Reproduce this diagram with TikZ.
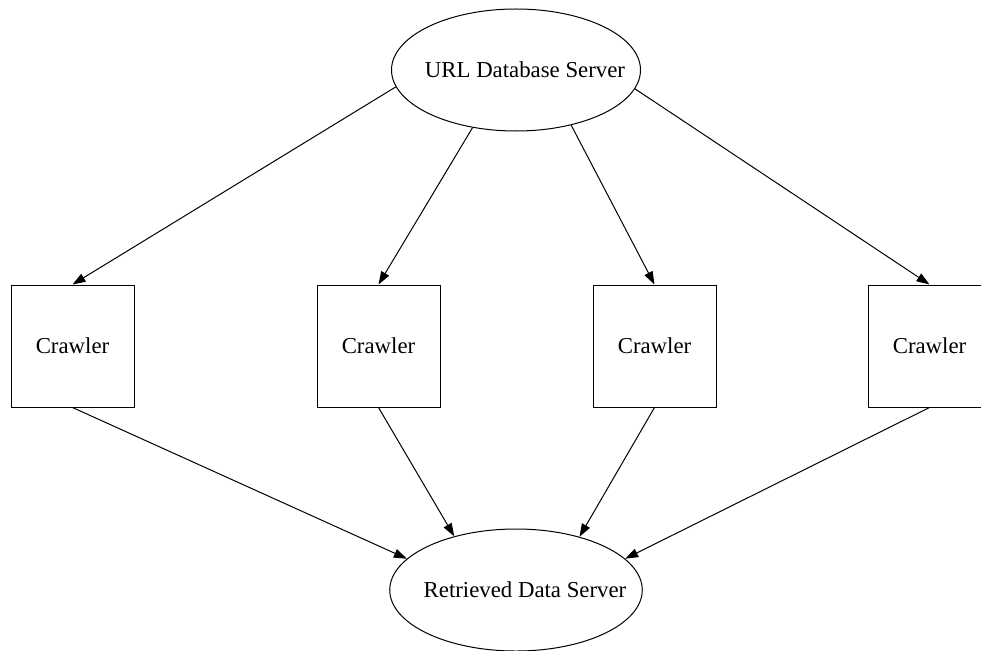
\documentclass[tikz,border=0pt]{standalone}
\usepackage{fontspec}
\setmainfont{Liberation Serif}
\usetikzlibrary{arrows.meta,shapes.geometric}
\begin{document}
\begin{tikzpicture}[x=1pt,y=-1pt,
  server/.style={draw, ellipse, line width=1pt, minimum width=246pt, minimum height=122pt,
    inner xsep=-21pt, inner ysep=0pt, font=\fontsize{22.8}{27}\selectfont},
  crawlerbox/.style={draw, rectangle, line width=1pt, minimum width=123pt, minimum height=122pt,
    inner sep=0pt, font=\fontsize{22.8}{27}\selectfont},
  link/.style={line width=1pt, -{Triangle[length=13pt,width=9pt]}}]
\useasboundingbox (0,0) rectangle (981,650);

% servers (labels sit a little right of centre)
\node[server] (url) at (516,70) {\hspace*{18pt}URL Database Server};
\node[server] (data) at (516,590) {\hspace*{18pt}Retrieved Data Server};

% crawlers
\node[crawlerbox] (c1) at (72.5,346) {Crawler};
\node[crawlerbox] (c2) at (378.5,346) {Crawler};
\node[crawlerbox] (c3) at (654.5,346) {Crawler};
\node[crawlerbox] (c4) at (929.5,346) {Crawler};

% URL server hands work to each crawler
\draw[link] (url.188) -- (c1.north);
\draw[link] (url.233) -- (c2.north);
\draw[link] (url.315) -- (c3.north);
\draw[link] (url.351) -- (c4.north);

% crawlers deliver results
\draw[link] (c1.south) -- (data.164.5);
\draw[link] (c2.south) -- (data.139);
\draw[link] (c3.south) -- (data.40.4);
\draw[link] (c4.south) -- (data.16.5);
\end{tikzpicture}
\end{document}
